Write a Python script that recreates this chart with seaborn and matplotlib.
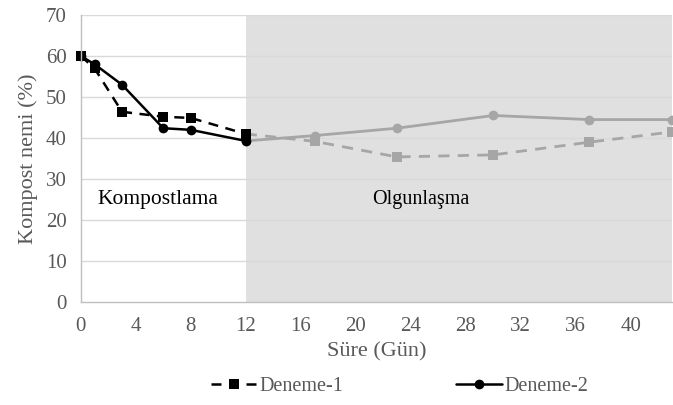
import matplotlib
matplotlib.use("Agg")
import matplotlib.pyplot as plt
import seaborn as sns
import pandas as pd
from matplotlib.lines import Line2D

sns.set_theme(style="white")
plt.rcParams['font.family'] = ['Liberation Serif', 'DejaVu Serif']

# Data
days_k = [0, 1, 3, 6, 8, 12]
den1_k = [60.0, 57.0, 46.4, 45.2, 44.9, 41.0]
den2_k = [60.0, 58.0, 53.0, 42.4, 42.0, 39.3]
days_o = [12, 17, 23, 30, 37, 43]
den1_o = [41.0, 39.2, 35.4, 35.9, 39.0, 41.5]
den2_o = [39.3, 40.6, 42.4, 45.5, 44.5, 44.5]
x_ticks = [0, 4, 8, 12, 16, 20, 24, 28, 32, 36, 40]
y_ticks = [0, 10, 20, 30, 40, 50, 60, 70]

fig = plt.figure(figsize=(6.73, 4.05), dpi=100)
ax = fig.add_axes([0.12, 0.254, 0.8785, 0.709])

ax.axvspan(12, 43, color='#e0e0e0', zorder=0, lw=0)
for y in y_ticks[1:]:
    ax.axhline(y, color='#d9d9d9', lw=1, zorder=0.5)

grey = '#a6a6a6'
df_o1 = pd.DataFrame({'x': days_o, 'y': den1_o})
df_o2 = pd.DataFrame({'x': days_o, 'y': den2_o})
df_k1 = pd.DataFrame({'x': days_k, 'y': den1_k})
df_k2 = pd.DataFrame({'x': days_k, 'y': den2_k})

sns.lineplot(data=df_o1, x='x', y='y', ax=ax, color=grey, lw=2, marker='s',
             markersize=7, markeredgewidth=0, linestyle=(0, (4, 3)), clip_on=False)
sns.lineplot(data=df_o2, x='x', y='y', ax=ax, color=grey, lw=2, marker='o',
             markersize=7, markeredgewidth=0, clip_on=False)
sns.lineplot(data=df_k1, x='x', y='y', ax=ax, color='black', lw=1.8, marker='s',
             markersize=7, markeredgewidth=0, linestyle=(0, (4, 3)), clip_on=False)
sns.lineplot(data=df_k2, x='x', y='y', ax=ax, color='black', lw=1.8, marker='o',
             markersize=7, markeredgewidth=0, clip_on=False)

ax.set_xlim(0, 43)
ax.set_ylim(0, 70)
ax.set_xticks(x_ticks)
ax.set_yticks(y_ticks)
ax.tick_params(axis='both', labelsize=15, colors='#595959', color='#bfbfbf')
ax.tick_params(axis='y', length=0, pad=10)
ax.tick_params(axis='x', direction='out', length=5, pad=6)
for s in ['top', 'right']:
    ax.spines[s].set_visible(False)
for s in ['left', 'bottom']:
    ax.spines[s].set_color('#bfbfbf')
    ax.spines[s].set_linewidth(1)

ax.set_xlabel('Süre (Gün)', fontsize=16, color='#595959', labelpad=4)
ax.set_ylabel('Kompost nemi (%)', fontsize=16, color='#595959', labelpad=6)

ax.text(5.6, 25.0, 'Kompostlama', fontsize=15.5, color='black', ha='center', va='center')
ax.text(24.7, 25.0, 'Olgunlaşma', fontsize=14.5, color='black', ha='center', va='center')

handles = [
    Line2D([0], [0], color='black', lw=1.8, linestyle=(0, (4, 3)), marker='s', markersize=7, markeredgewidth=0),
    Line2D([0], [0], color='black', lw=1.8, marker='o', markersize=7, markeredgewidth=0),
]
leg = fig.legend(handles, ['Deneme-1', 'Deneme-2'], loc='center', bbox_to_anchor=(0.594, 0.045),
                 ncol=2, frameon=False, fontsize=14.5, handlelength=2.3, columnspacing=5.6,
                 handletextpad=0.1)
for t in leg.get_texts():
    t.set_color('#595959')

fig.savefig('out.png', dpi=100)
